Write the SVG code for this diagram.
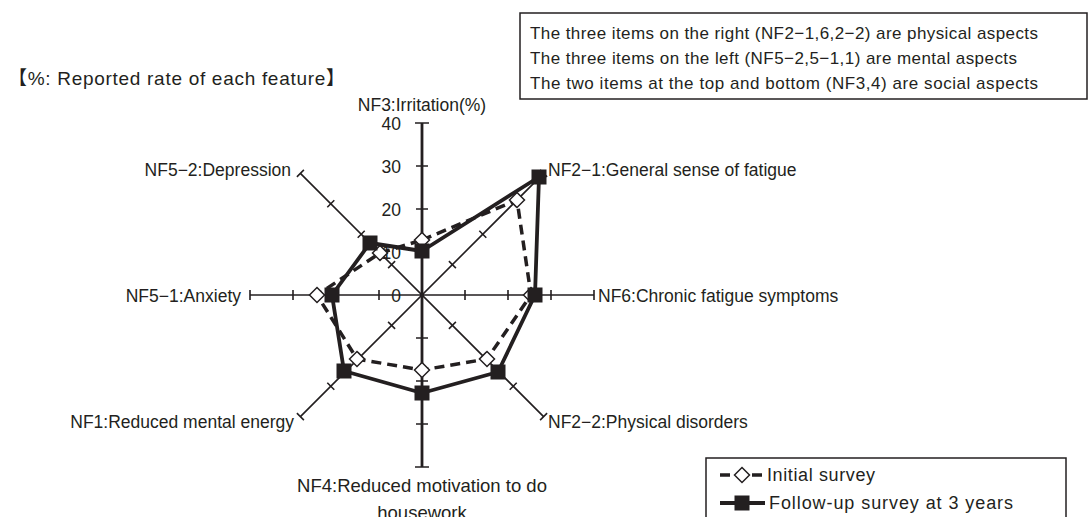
<svg xmlns="http://www.w3.org/2000/svg" width="1089" height="517" viewBox="0 0 1089 517">
<defs>
<style>
text{font-family:"Liberation Sans","Noto Sans CJK JP",sans-serif;font-size:17.5px;fill:#231f20}
.box{font-size:17px}
.ax{stroke:#231f20;stroke-width:1.6;fill:none}
.axv{stroke:#231f20;stroke-width:2.8;fill:none}
.ini{stroke:#231f20;stroke-width:3.5;fill:none;stroke-dasharray:10 6;stroke-linejoin:round}
.fol{stroke:#231f20;stroke-width:3.8;fill:none;stroke-linejoin:round}
.dm{fill:#fff;stroke:#231f20;stroke-width:1.5}
.sq{fill:#231f20}
.frame{fill:#fff;stroke:#231f20;stroke-width:1.5}
</style>
<path id="dia" d="M0 -7.5 L7.5 0 L0 7.5 L-7.5 0Z"/>
<rect id="sqr" x="-7.5" y="-7.5" width="15" height="15"/>
</defs>
<rect width="1089" height="517" fill="#fff"/>

<g id="note">
<rect class="frame" x="520" y="13" width="567" height="86"/>
<text class="box" x="530" y="39" textLength="508" lengthAdjust="spacing">The three items on the right (NF2−1,6,2−2) are physical aspects</text>
<text class="box" x="530" y="64" textLength="487" lengthAdjust="spacing">The three items on the left (NF5−2,5−1,1) are mental aspects</text>
<text class="box" x="530" y="89" textLength="508" lengthAdjust="spacing">The two items at the top and bottom (NF3,4) are social aspects</text>
</g>

<g id="title"><text x="8" y="85" style="font-size:19px" textLength="337" lengthAdjust="spacing">【%: Reported rate of each feature】</text></g>

<g id="axes">
<path class="ax" d="M250 295 H594 M300.4 173.4 L543.6 416.6 M543.6 173.4 L300.4 416.6"/>
<path class="ax" d="M250 290 v10 M293 290 v10 M336 290 v10 M379 290 v10 M465 290 v10 M508 290 v10 M551 290 v10 M594 290 v10"/>
<path class="ax" d="M448.9 261.1 l7 7 M479.3 230.7 l7 7 M509.7 200.3 l7 7 M540.1 169.9 l7 7 M388.1 321.9 l7 7 M357.7 352.3 l7 7 M327.3 382.7 l7 7 M296.9 413.1 l7 7"/>
<path class="ax" d="M388.1 268.1 l7 -7 M357.7 237.7 l7 -7 M327.3 207.3 l7 -7 M296.9 176.9 l7 -7 M448.9 328.9 l7 -7 M479.3 359.3 l7 -7 M509.7 389.7 l7 -7 M540.1 420.1 l7 -7"/>
<path class="axv" d="M422 123 V467"/>
<path class="ax" stroke-width="2" d="M415 123 h14 M416 166 h12 M416 209 h12 M416 252 h12 M416 338 h12 M416 381 h12 M416 424 h12 M415 467 h14"/>
<text x="401" y="130" text-anchor="end">40</text>
<text x="401" y="173" text-anchor="end">30</text>
<text x="401" y="216" text-anchor="end">20</text>
<text x="401" y="259" text-anchor="end">10</text>
<text x="401" y="302" text-anchor="end">0</text>
</g>

<g id="series-initial">
<polygon class="ini" points="422,240 517,200 531,295 487,359 422,370 357,359 317,295 380,253"/>
<g class="dm">
<use href="#dia" x="422" y="240"/><use href="#dia" x="517" y="200"/><use href="#dia" x="531" y="295"/><use href="#dia" x="487" y="359"/>
<use href="#dia" x="422" y="370"/><use href="#dia" x="357" y="359"/><use href="#dia" x="317" y="295"/><use href="#dia" x="380" y="253"/>
</g>
</g>

<g id="series-followup">
<polygon class="fol" points="422,251 539,177 535,295 498,372 422,393 344,371 332,295 370,243"/>
<g class="sq">
<use href="#sqr" x="422" y="251"/><use href="#sqr" x="539" y="177"/><use href="#sqr" x="535" y="295"/><use href="#sqr" x="498" y="372"/>
<use href="#sqr" x="422" y="393"/><use href="#sqr" x="344" y="371"/><use href="#sqr" x="332" y="295"/><use href="#sqr" x="370" y="243"/>
</g>
</g>

<g id="labels">
<text id="NF3" x="422" y="111" text-anchor="middle">NF3:Irritation(%)</text>
<text id="NF2-1" x="548" y="176">NF2−1:General sense of fatigue</text>
<text id="NF6" x="598" y="302">NF6:Chronic fatigue symptoms</text>
<text id="NF2-2" x="548" y="428">NF2−2:Physical disorders</text>
<text id="NF4" x="422" y="492" text-anchor="middle" style="font-size:18.5px">NF4:Reduced motivation to do<tspan x="422" y="519">housework</tspan></text>
<text id="NF1" x="294" y="428" text-anchor="end">NF1:Reduced mental energy</text>
<text id="NF5-1" x="241" y="302" text-anchor="end">NF5−1:Anxiety</text>
<text id="NF5-2" x="291" y="176" text-anchor="end">NF5−2:Depression</text>
</g>

<g id="legend">
<rect class="frame" x="706" y="458" width="360" height="80"/>
<path class="ini" d="M720 475 H765"/>
<use href="#dia" x="742" y="475" class="dm"/>
<path class="fol" d="M720 503 H765"/>
<use href="#sqr" x="742" y="503" class="sq"/>
<text x="767" y="481" style="font-size:18px" textLength="108" lengthAdjust="spacing">Initial survey</text>
<text x="769" y="509" style="font-size:18px" textLength="244" lengthAdjust="spacing">Follow-up survey at 3 years</text>
</g>
</svg>
